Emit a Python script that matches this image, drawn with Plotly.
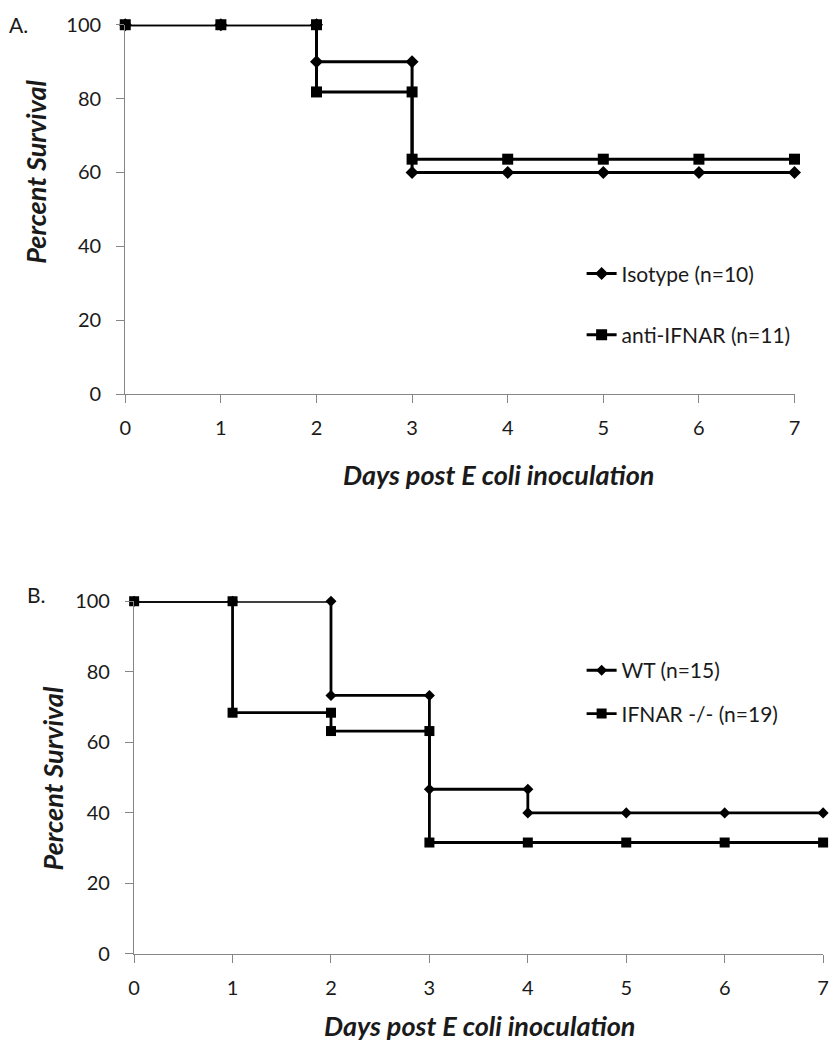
import plotly.graph_objects as go

# ---------------- data ----------------
days = [0, 1, 2, 3, 4, 5, 6, 7]
y_ticks = [0, 20, 40, 60, 80, 100]

# Panel A (step data as plotted, points at each day and at each drop)
iso_x = [0, 1, 2, 2, 3, 3, 4, 5, 6, 7]
iso_y = [100, 100, 100, 90, 90, 60, 60, 60, 60, 60]
anti_x = [0, 1, 2, 2, 3, 3, 4, 5, 6, 7]
anti_y = [100, 100, 100, 81.8, 81.8, 63.6, 63.6, 63.6, 63.6, 63.6]

# Panel B
wt_x = [0, 1, 2, 2, 3, 3, 4, 4, 5, 6, 7]
wt_y = [100, 100, 100, 73.3, 73.3, 46.7, 46.7, 40, 40, 40, 40]
ko_x = [0, 1, 1, 2, 2, 3, 3, 4, 5, 6, 7]
ko_y = [100, 100, 68.4, 68.4, 63.2, 63.2, 31.6, 31.6, 31.6, 31.6, 31.6]

names_a = ["Isotype (n=10)", "anti-IFNAR (n=11)"]
names_b = ["WT (n=15)", "IFNAR -/- (n=19)"]
x_title = "Days post E coli inoculation"
y_title = "Percent Survival"

W, H = 836, 1050
FONT = "Lato, 'Open Sans', sans-serif"
TXT = "#1a1a1a"
AX = "#868686"

def px(x):
    return x / W

def py(y):
    return 1 - y / H

fig = go.Figure()

fig.add_trace(go.Scatter(x=iso_x, y=iso_y, name=names_a[0], mode="lines+markers",
                         line=dict(color="black", width=3),
                         marker=dict(symbol="diamond", size=10, color="black"),
                         cliponaxis=False, xaxis="x", yaxis="y", legend="legend",
                         legendgroup="a1"))
fig.add_trace(go.Scatter(x=anti_x, y=anti_y, name=names_a[1], mode="lines+markers",
                         line=dict(color="black", width=3),
                         marker=dict(symbol="square", size=11, color="black"),
                         cliponaxis=False, xaxis="x", yaxis="y", legend="legend",
                         legendgroup="a2"))
fig.add_trace(go.Scatter(x=wt_x, y=wt_y, name=names_b[0], mode="lines+markers",
                         line=dict(color="black", width=2.8),
                         marker=dict(symbol="diamond", size=8.5, color="black"),
                         cliponaxis=False, xaxis="x2", yaxis="y2", legend="legend2",
                         legendgroup="b1"))
fig.add_trace(go.Scatter(x=ko_x, y=ko_y, name=names_b[1], mode="lines+markers",
                         line=dict(color="black", width=2.8),
                         marker=dict(symbol="square", size=10, color="black"),
                         cliponaxis=False, xaxis="x2", yaxis="y2", legend="legend2",
                         legendgroup="b2"))

common_x = dict(range=[0, 7], tickvals=days, showgrid=False, zeroline=False,
                showline=True, linecolor=AX, linewidth=1.3, ticks="outside",
                ticklen=8, tickcolor=AX, tickwidth=1.3,
                tickfont=dict(family=FONT, size=20, color=TXT), ticklabelstandoff=8)
common_y = dict(range=[0, 100], tickvals=y_ticks, showgrid=False, zeroline=False,
                showline=True, linecolor=AX, linewidth=1.3, ticks="outside",
                ticklen=8, tickcolor=AX, tickwidth=1.3,
                tickfont=dict(family=FONT, size=20, color=TXT), ticklabelstandoff=11)

fig.update_layout(
    width=W, height=H,
    margin=dict(l=0, r=0, t=0, b=0),
    paper_bgcolor="white", plot_bgcolor="white",
    showlegend=True,
    xaxis=dict(domain=[px(121), px(800)], anchor="y", **common_x),
    yaxis=dict(domain=[py(390), py(12)], anchor="x", **common_y),
    xaxis2=dict(domain=[px(130), px(829)], anchor="y2", **common_x),
    yaxis2=dict(domain=[py(963), py(602)], anchor="x2", **common_y),
    legend=dict(x=px(584), y=py(246), xanchor="left", yanchor="top",
                bgcolor="rgba(0,0,0,0)", font=dict(family=FONT, size=21, color=TXT),
                traceorder="grouped", tracegroupgap=31, itemwidth=30),
    legend2=dict(x=px(584), y=py(652), xanchor="left", yanchor="top",
                 bgcolor="rgba(0,0,0,0)", font=dict(family=FONT, size=21, color=TXT),
                 traceorder="grouped", tracegroupgap=13, itemwidth=30),
)

def note(text, x, y, font, xanchor="center", angle=0):
    return dict(text=text, x=px(x), y=py(y), xref="paper", yref="paper",
                xanchor=xanchor, yanchor="middle", showarrow=False,
                textangle=angle, font=font)

lab_font = dict(family=FONT, size=21, color=TXT)
title_font = dict(family=FONT, size=27, color=TXT, weight="bold", style="italic")
ann = [
    note("A.", 1, 12, lab_font, xanchor="left"),
    note("B.", 19, 595, lab_font, xanchor="left"),
    note(x_title, 500, 472, title_font),
    note(x_title, 480, 1036, title_font),
    note(y_title, 30, 163, title_font, angle=-90),
    note(y_title, 47, 783, title_font, angle=-90),
]
fig.update_layout(annotations=ann)

fig.write_html("out.html",
               config={"displayModeBar": False},
               post_script="document.body.style.margin='0';document.body.style.overflow='hidden';")
